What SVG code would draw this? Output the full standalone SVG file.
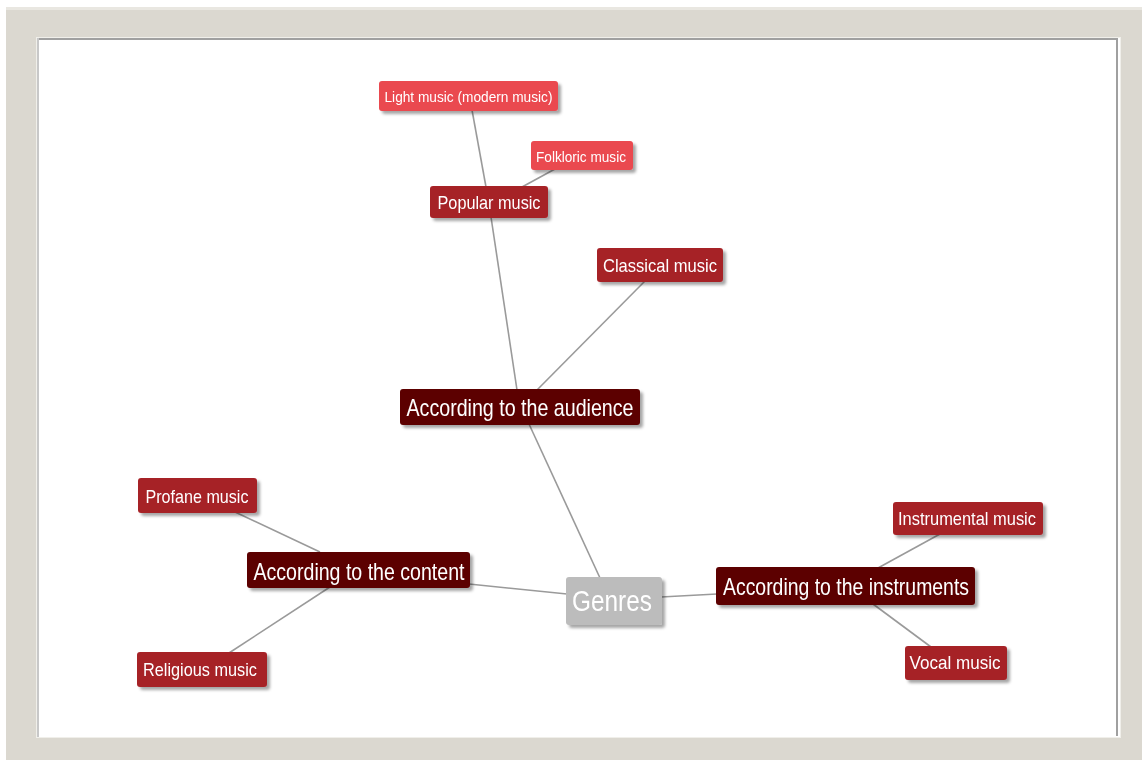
<svg xmlns="http://www.w3.org/2000/svg" width="1142" height="760" viewBox="0 0 1142 760">
<style>
.t{font-family:"Liberation Sans",Arial,sans-serif;fill:#ffffff;text-anchor:middle;dominant-baseline:central}
.light{fill:#ea4850}
.mid{fill:#a62128}
.dark{fill:#5c0606}
.gen{fill:#bcbcbc}
.c{stroke:#9a9a9a;stroke-width:1.6;fill:none}
</style>
<defs>
<filter id="sh" x="-10%" y="-20%" width="125%" height="160%">
<feDropShadow dx="3" dy="3" stdDeviation="1.5" flood-color="#000" flood-opacity="0.35"/>
</filter>
</defs>
<rect x="0" y="0" width="1142" height="760" fill="#ffffff"/>
<rect x="6" y="7" width="1136" height="753" fill="#dbd8d0"/>
<rect x="6" y="7" width="1136" height="3" fill="#e9e7e1"/>
<rect x="36" y="37" width="1085" height="701" fill="#f0efea"/>
<rect x="37" y="38" width="1083" height="699" fill="#ffffff"/>
<rect x="37" y="38" width="1080" height="2" fill="#a0a0a0"/>
<rect x="37" y="38" width="2" height="699" fill="#c8c8c8"/>
<rect x="1116" y="38" width="2" height="698" fill="#a0a0a0"/>
<g id="connectors">
<line class="c" x1="472" y1="110" x2="486" y2="187"/>
<line class="c" x1="555" y1="169" x2="522" y2="187"/>
<line class="c" x1="491" y1="217" x2="517" y2="390"/>
<line class="c" x1="645" y1="281" x2="537" y2="390"/>
<line class="c" x1="529" y1="424" x2="600" y2="578"/>
<line class="c" x1="469" y1="584" x2="567" y2="594"/>
<line class="c" x1="661" y1="597" x2="717" y2="594"/>
<line class="c" x1="235" y1="512" x2="320" y2="552"/>
<line class="c" x1="330" y1="587" x2="229" y2="653"/>
<line class="c" x1="878" y1="568" x2="940" y2="534"/>
<line class="c" x1="873" y1="604" x2="931" y2="647"/>
</g>
<g id="light-music" filter="url(#sh)">
<rect class="light" x="379" y="81" width="179" height="30" rx="3"/>
<text class="t" x="468.5" y="96" font-size="15" textLength="168" lengthAdjust="spacingAndGlyphs">Light music (modern music)</text>
</g>
<g id="folkloric-music" filter="url(#sh)">
<rect class="light" x="531" y="141" width="102" height="29" rx="3"/>
<text class="t" x="581" y="156" font-size="15" textLength="90" lengthAdjust="spacingAndGlyphs">Folkloric music</text>
</g>
<g id="popular-music" filter="url(#sh)">
<rect class="mid" x="430" y="186" width="118" height="32" rx="3"/>
<text class="t" x="489" y="202" font-size="19" textLength="103" lengthAdjust="spacingAndGlyphs">Popular music</text>
</g>
<g id="classical-music" filter="url(#sh)">
<rect class="mid" x="597" y="248" width="126" height="34" rx="3"/>
<text class="t" x="660" y="265" font-size="19" textLength="114" lengthAdjust="spacingAndGlyphs">Classical music</text>
</g>
<g id="according-audience" filter="url(#sh)">
<rect class="dark" x="400" y="389" width="240" height="36" rx="3"/>
<text class="t" x="520" y="407" font-size="24" textLength="227" lengthAdjust="spacingAndGlyphs">According to the audience</text>
</g>
<g id="profane-music" filter="url(#sh)">
<rect class="mid" x="138" y="478" width="119" height="35" rx="3"/>
<text class="t" x="197" y="496" font-size="19" textLength="103" lengthAdjust="spacingAndGlyphs">Profane music</text>
</g>
<g id="according-content" filter="url(#sh)">
<rect class="dark" x="247" y="552" width="223" height="36" rx="3"/>
<text class="t" x="359" y="571" font-size="24" textLength="211" lengthAdjust="spacingAndGlyphs">According to the content</text>
</g>
<g id="religious-music" filter="url(#sh)">
<rect class="mid" x="137" y="652" width="130" height="35" rx="3"/>
<text class="t" x="200" y="669" font-size="19" textLength="114" lengthAdjust="spacingAndGlyphs">Religious music</text>
</g>
<g id="genres" filter="url(#sh)">
<rect class="gen" x="566" y="577" width="96" height="48" rx="3"/>
<text class="t" x="612" y="600" font-size="30" textLength="80" lengthAdjust="spacingAndGlyphs">Genres</text>
</g>
<g id="according-instruments" filter="url(#sh)">
<rect class="dark" x="716" y="567" width="259" height="38" rx="3"/>
<text class="t" x="846" y="586" font-size="24" textLength="246" lengthAdjust="spacingAndGlyphs">According to the instruments</text>
</g>
<g id="instrumental-music" filter="url(#sh)">
<rect class="mid" x="893" y="502" width="150" height="33" rx="3"/>
<text class="t" x="967" y="518" font-size="19" textLength="138" lengthAdjust="spacingAndGlyphs">Instrumental music</text>
</g>
<g id="vocal-music" filter="url(#sh)">
<rect class="mid" x="905" y="646" width="102" height="34" rx="3"/>
<text class="t" x="955" y="662" font-size="19" textLength="91" lengthAdjust="spacingAndGlyphs">Vocal music</text>
</g>
</svg>
